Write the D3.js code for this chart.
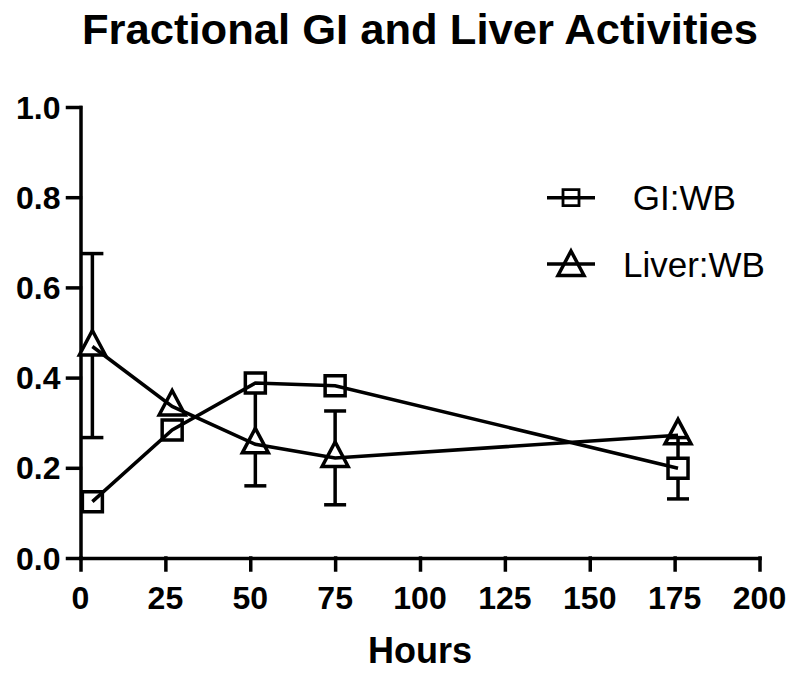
<!DOCTYPE html>
<html>
<head>
<meta charset="utf-8">
<script src="https://cdn.jsdelivr.net/npm/d3@7"></script>
<style>
    html, body { margin: 0; padding: 0; background: #fff; overflow: hidden; }
    svg { display: block; font-family: "Liberation Sans", Arial, sans-serif; }
</style>
</head>
<body>
<svg></svg>
<script>
// values
const hours = [3.5, 27, 51.5, 75, 176]
const giValues = [0.125, 0.284, 0.388, 0.382, 0.199]
const giErrLow = [0, 0, 0, 0, 0.068]
const giErrHigh = [0, 0, 0, 0, 0.068]
const liverValues = [0.469, 0.336, 0.252, 0.222, 0.272]
const liverErrLow = [0.202, 0, 0.092, 0.104, 0]
const liverErrHigh = [0.206, 0, 0.136, 0.104, 0]
const seriesNames = [" GI:WB", "Liver:WB"]
const xTicks = [0, 25, 50, 75, 100, 125, 150, 175, 200]
const yTicks = [0.0, 0.2, 0.4, 0.6, 0.8, 1.0]

const width = 800
const height = 676
const margin = {
    top: 107,
    bottom: 118,
    left: 80.5,
    right: 40.5
}
const innerWidth = width - (margin.left + margin.right)
const innerHeight = height - (margin.top + margin.bottom)
const sw = 3.5

const xScale = d3.scaleLinear()
    .domain([0, 200])
    .range([0, innerWidth])

const yScale = d3.scaleLinear()
    .domain([0, 1])
    .range([innerHeight, 0])

const svg = d3.select('svg')
    .attr('width', width)
    .attr('height', height)
    .attr('viewBox', `0 0 ${width} ${height}`)

const g = svg.append('g')
    .attr('transform', `translate(${margin.left},${margin.top})`)

svg.append('text')
    .attr('x', 420)
    .attr('y', 44)
    .attr('text-anchor', 'middle')
    .attr('font-size', 43)
    .attr('font-weight', 'bold')
    .attr('textLength', 676)
    .attr('lengthAdjust', 'spacingAndGlyphs')
    .text('Fractional GI and Liver Activities')

// axes (lines from d3 axis, labels placed with the same scales)
const xAxis = d3.axisBottom(xScale)
    .tickValues(xTicks)
    .tickSize(12)
    .tickSizeOuter(0)
    .tickFormat('')
g.append('g')
    .attr('transform', `translate(0,${innerHeight})`)
    .call(xAxis)

const yAxis = d3.axisLeft(yScale)
    .tickValues(yTicks)
    .tickSize(13)
    .tickSizeOuter(0)
    .tickFormat('')
g.append('g')
    .call(yAxis)

g.selectAll('.domain, .tick line')
    .attr('stroke', '#000')
    .attr('stroke-width', sw)
    .attr('stroke-linecap', 'square')
g.selectAll('.tick text').remove()

const xLabels = g.append('g')
    .attr('font-size', 32)
    .attr('font-weight', 'bold')
    .attr('text-anchor', 'middle')
xLabels.selectAll('text')
    .data(xTicks)
    .enter()
    .append('text')
    .attr('x', d => xScale(d))
    .attr('y', innerHeight + 51)
    .text(d => d)

const yLabels = g.append('g')
    .attr('font-size', 32)
    .attr('font-weight', 'bold')
    .attr('text-anchor', 'end')
yLabels.selectAll('text')
    .data(yTicks)
    .enter()
    .append('text')
    .attr('x', -20)
    .attr('y', d => yScale(d))
    .attr('dy', '0.36em')
    .text(d3.format('.1f'))

svg.append('text')
    .attr('x', 420)
    .attr('y', 663)
    .attr('text-anchor', 'middle')
    .attr('font-size', 36)
    .attr('font-weight', 'bold')
    .text('Hours')

// markers
const squarePath = 'M-10,-10H10V10H-10Z'
const trianglePath = 'M0,-16L13,8.5L-13,8.5Z'

const series = [
    { name: seriesNames[1], values: liverValues, lo: liverErrLow, hi: liverErrHigh, shape: trianglePath },
    { name: seriesNames[0], values: giValues, lo: giErrLow, hi: giErrHigh, shape: squarePath }
]

const line = d3.line()
    .x((d, i) => xScale(hours[i]))
    .y(d => yScale(d))

series.forEach(s => {
    const pts = s.values.map((v, i) => ({ x: hours[i], v: v, lo: s.lo[i], hi: s.hi[i] }))
    const eb = g.append('g')
        .attr('stroke', '#000')
        .attr('stroke-width', sw)
        .attr('fill', 'none')
    const bars = pts.filter(p => p.lo > 0 || p.hi > 0)
    eb.selectAll('.stem')
        .data(bars)
        .enter()
        .append('line')
        .attr('x1', d => xScale(d.x))
        .attr('x2', d => xScale(d.x))
        .attr('y1', d => yScale(d.v + d.hi))
        .attr('y2', d => yScale(d.v - d.lo))
    eb.selectAll('.capHi')
        .data(bars.filter(d => d.hi > 0))
        .enter()
        .append('line')
        .attr('x1', d => xScale(d.x) - 11)
        .attr('x2', d => xScale(d.x) + 11)
        .attr('y1', d => yScale(d.v + d.hi))
        .attr('y2', d => yScale(d.v + d.hi))
    eb.selectAll('.capLo')
        .data(bars.filter(d => d.lo > 0))
        .enter()
        .append('line')
        .attr('x1', d => xScale(d.x) - 11)
        .attr('x2', d => xScale(d.x) + 11)
        .attr('y1', d => yScale(d.v - d.lo))
        .attr('y2', d => yScale(d.v - d.lo))

    g.append('g')
        .selectAll('path')
        .data(pts)
        .enter()
        .append('path')
        .attr('d', s.shape)
        .attr('transform', d => `translate(${xScale(d.x)},${yScale(d.v)})`)
        .attr('fill', '#fff')
        .attr('stroke', '#000')
        .attr('stroke-width', sw)
})

series.forEach(s => {
    g.append('path')
        .datum(s.values)
        .attr('d', line)
        .attr('fill', 'none')
        .attr('stroke', '#000')
        .attr('stroke-width', sw)
})

// legend
const legendY = [197.7, 264]
const legend = svg.append('g')
const legendRows = legend.selectAll('.row')
    .data([series[1], series[0]])
    .enter()
    .append('g')
    .attr('transform', (d, i) => `translate(571,${legendY[i]})`)
legendRows.append('line')
    .attr('x1', -24)
    .attr('x2', 24)
    .attr('stroke', '#000')
    .attr('stroke-width', sw)
legendRows.append('path')
    .attr('d', d => d.shape)
    .attr('transform', (d, i) => i === 0 ? 'scale(0.8)' : 'translate(0,3)')
    .attr('fill', 'none')
    .attr('stroke', '#000')
    .attr('stroke-width', sw)
legendRows.append('text')
    .attr('x', 52)
    .attr('dy', '0.36em')
    .attr('font-size', 35)
    .style('white-space', 'pre')
    .text(d => d.name)
</script>
</body>
</html>
